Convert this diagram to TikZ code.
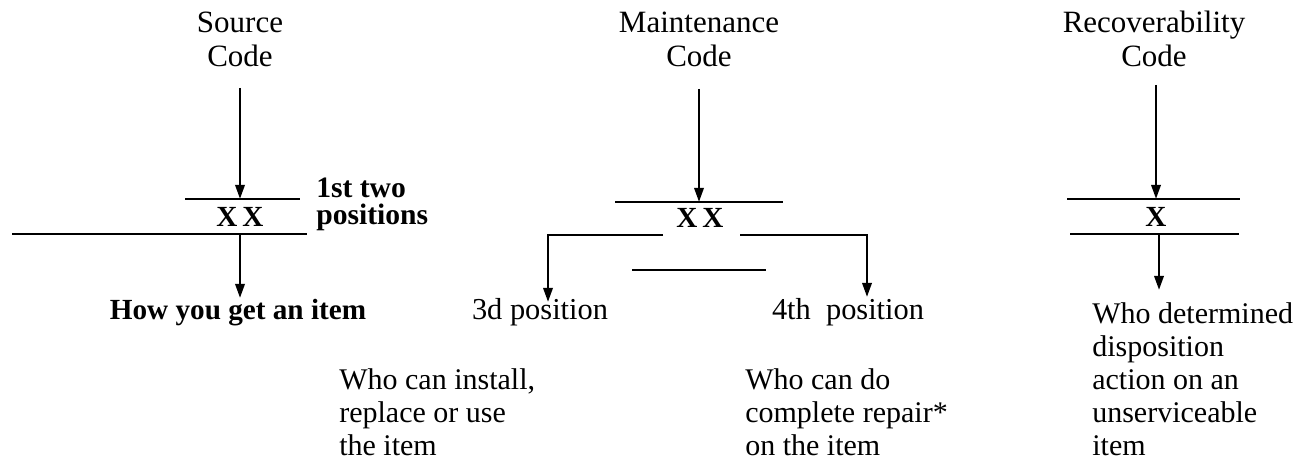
\documentclass[tikz,border=0pt]{standalone}
\usepackage{fontspec}
\setmainfont{Liberation Serif}
\usetikzlibrary{arrows.meta}
\usetikzlibrary{positioning}

\begin{document}
\begin{tikzpicture}[x=0.5pt,y=-0.5pt,>={Triangle[length=7pt,width=4.6pt]},line width=1.3pt]
 \tikzstyle{title node}=[align=center,inner sep=0,anchor=south,font=\fontsize{15.5}{17}\selectfont]
 \tikzstyle{code node}=[inner sep=0,anchor=base,font=\fontsize{14.6}{14.6}\selectfont\bfseries]
 \tikzset{
 	label node/.style={inner sep=0,anchor=base,font=\fontsize{15.2}{16.5}\selectfont},
 	note node/.style={align=left,inner sep=0,anchor=base west,font=\fontsize{15}{16.5}\selectfont},
 	pos node/.style={align=left,inner sep=0,anchor=base west,font=\fontsize{14.8}{13.5}\selectfont\bfseries}
 }
 \useasboundingbox (0,0) rectangle (1304,459);

       % source code
       \node[title node] (srct) at (240,68) {Source\\Code};
       \coordinate (srcin) at (240,88);
       \coordinate (srctop) at (240,199);
       \coordinate (srctl) at (185,199);
       \coordinate (srctr) at (300,199);
       \node[code node] (srcxx) at (240,227) {X\,X};
       \coordinate (srcbl) at (12,234);
       \coordinate (srcbr) at (307,234);
       \coordinate (srcbot) at (240,234);
       \coordinate (srcend) at (240,298);
       \node[pos node] (srcpos) at (315,225) {1st two\\positions};
       \node[code node] (srcout) at (238,320) {How you get an item};

       % maintenance code
       \node[title node] (mntt) at (699,68) {Maintenance\\Code};
       \coordinate (mntin) at (699,89);
       \coordinate (mnttop) at (699,202);
       \coordinate (mnttl) at (615,202);
       \coordinate (mnttr) at (783,202);
       \node[code node] (mntxx) at (700,228) {X\,X};
       \coordinate (mntl) at (663,235);
       \coordinate (mntr) at (740,235);
       \coordinate (mnt3) at (548,302);
       \coordinate (mnt4) at (867,297);
       \coordinate (mntml) at (632,270);
       \coordinate (mntmr) at (766,270);
       \node[label node] (mnt3d) at (540,320) {3d position};
       \node[label node] (mnt4th) at (848,320) {4th\enspace position};
       \node[note node] (mntuse) at (338,455) {Who can install,\\replace or use\\the item};
       \node[note node] (mntrep) at (744,455) {Who can do\\complete repair*\\on the item};

       % recoverability code
       \node[title node] (rect) at (1154,68) {Recoverability\\Code};
       \coordinate (recin) at (1156,85);
       \coordinate (rectop) at (1156,199);
       \coordinate (rectl) at (1067,199);
       \coordinate (rectr) at (1240,199);
       \node[code node] (recx) at (1156,227) {X};
       \coordinate (recbl) at (1070,234);
       \coordinate (recbr) at (1239,234);
       \coordinate (recbot) at (1159,234);
       \coordinate (recend) at (1159,290);
       \node[note node] (recwho) at (1091,455) {Who determined\\disposition\\action on an\\unserviceable\\item};

     \path[->]  (srcin) edge (srctop);
     \draw (srctl) -- (srctr);
     \draw (srcbl) -- (srcbr);
     \path[->]  (srcbot) edge (srcend);

     \path[->]  (mntin) edge (mnttop);
     \draw (mnttl) -- (mnttr);
     \draw[->] (mntl) -| (mnt3);
     \draw[->] (mntr) -| (mnt4);
     \draw (mntml) -- (mntmr);

     \path[->]  (recin) edge (rectop);
     \draw (rectl) -- (rectr);
     \draw (recbl) -- (recbr);
     \path[->]  (recbot) edge (recend);

 \end{tikzpicture}
\end{document}
